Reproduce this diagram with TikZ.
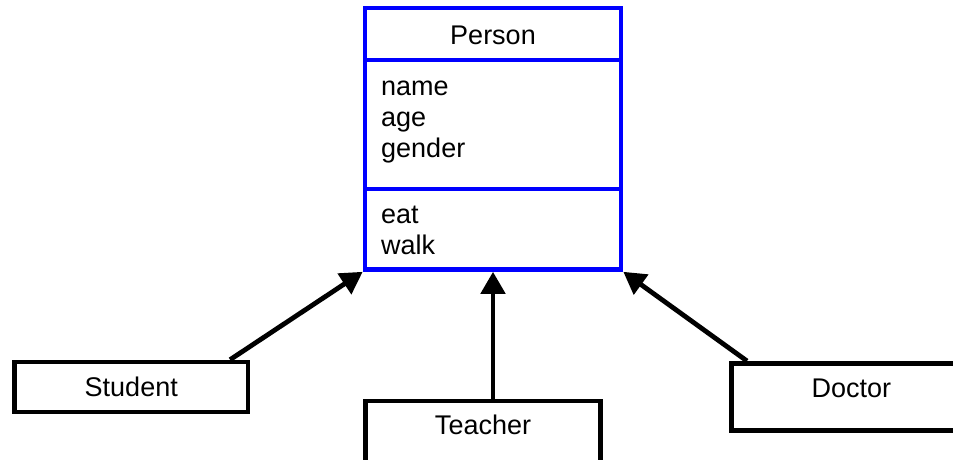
\documentclass[tikz,border=0pt]{standalone}
\usepackage{fontspec}
\setmainfont{Liberation Sans}
\usepackage{tikz}
\usetikzlibrary{arrows.meta}
\usetikzlibrary{calc}

\tikzset{
	classbox/.style={draw=blue, line width=4.6pt, minimum width=256pt, minimum height=261.5pt, inner sep=0pt},
	subbox/.style={draw, line width=4.6pt, inner sep=0pt, font=\fontsize{27}{31}\selectfont},
	entry/.style={anchor=base west, inner sep=0pt, font=\fontsize{27}{31}\selectfont},
	inherit/.style={-{Triangle[length=22pt, width=24pt]}, line width=4.8pt},
}

\begin{document}
\begin{tikzpicture}[x=1pt, y=-1pt]
		\useasboundingbox (0,0) rectangle (953,459);
		% the class Person
		\node[classbox] (person) at (493,138.75) {};
		\draw[blue, line width=4.6pt] (365,60) -- (621,60);
		\draw[blue, line width=4.6pt] (365,189) -- (621,189);
		\node[entry, anchor=base] (title) at (493,44) {Person};
		\foreach \attr [count=\i] in {name,age,gender}
			\node[entry] (attr\i) at (381,{64+31*\i}) {\attr};
		\foreach \meth [count=\i] in {eat,walk}
			\node[entry] (meth\i) at (381,{192+31*\i}) {\meth};
		% subclasses
		\node[subbox, minimum width=233.5pt, minimum height=50pt] (student) at (131.25,387) {Student};
		\node[subbox, minimum width=235pt, minimum height=68pt, anchor=north, text depth=20pt] (teacher) at (483,398.5) {Teacher};
		\node[subbox, minimum width=240pt, minimum height=67pt, anchor=north west, text depth=17pt] (doctor) at (729,361) {Doctor};
		\draw[inherit] ($(student.north west)!0.915!(student.north east)$) -- (person.south west);
		\draw[inherit] (teacher.north -| person.south) -- (person.south);
		\draw[inherit] ($(doctor.north west)+(18,0)$) -- (person.south east);
	\end{tikzpicture}
\end{document}
